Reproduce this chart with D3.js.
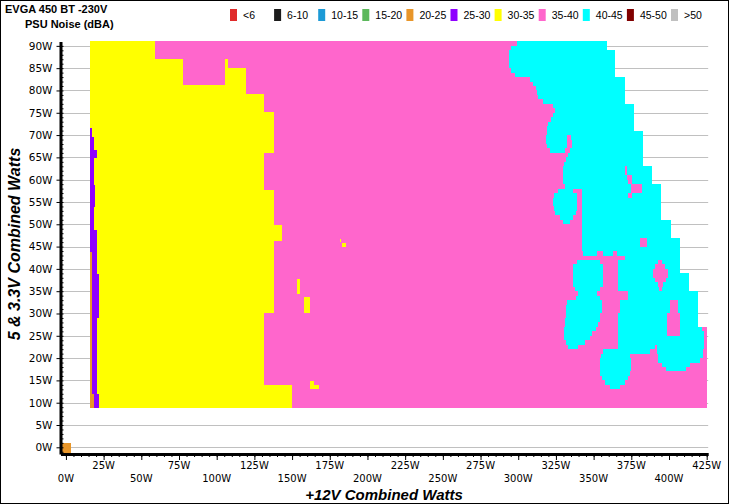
<!DOCTYPE html>
<html>
<head>
<meta charset="utf-8">
<script src="https://d3js.org/d3.v7.min.js"></script>
<style>
  body { margin: 0; background: #fff; }
  svg { display: block; }
  text { font-family: "Liberation Sans", Arial, sans-serif; }
</style>
</head>
<body>
<svg id="chart" width="729" height="504"></svg>
<script>
// legend categories (dBA) and colours
var legendLabels = ["<6", "6-10", "10-15", "15-20", "20-25", "25-30", "30-35", "35-40", "40-45", "45-50", ">50"];
var legendColors = ["#e02a2a", "#1c1c1c", "#1c9ad6", "#5cb85c", "#e8962a", "#8f00ff", "#ffff00", "#ff66cc", "#00ffff", "#800000", "#c0c0c0"];

// base map, horizontal bands (5&3.3V watts): 30-35 up to yellowEnd, 35-40 up to pinkEnd
var mapLeft = 15.9;
var bandTop    = [91, 88.8, 87.1, 85.1, 82.8, 81.3, 79.3, 77.0, 75.2, 70.8, 66.0, 62.8, 59.0, 57.7, 50.9, 49.9, 46.8, 46.2, 39.0, 34.9, 30.1, 26.9, 14.0];
var bandBottom = [88.8, 87.1, 85.1, 82.8, 81.3, 79.3, 77.0, 75.2, 70.8, 66.0, 62.8, 59.0, 57.7, 50.9, 49.9, 46.8, 46.2, 39.0, 34.9, 30.1, 26.9, 14.0, 8.75];
var yellowEnd  = [59.1, 59.1, 77.4, 77.4, 77.4, 119.2, 131.2, 131.2, 138.0, 138.0, 131.2, 131.2, 131.2, 138.0, 138.0, 143.3, 143.3, 138.0, 138.0, 138.0, 131.2, 131.2, 150.0];
var pinkEnd    = [359, 364, 364, 364, 371, 371, 371, 377, 377, 383, 383, 389, 395, 395, 401, 401, 407, 407, 413, 419, 419, 425, 425];

// extra cells: [category, x0, x1, y0, y1]
var patches = [
  ["30-35", 105.5, 107.3, 85.1, 87.1],
  ["30-35", 105.5, 119.2, 81.3, 85.1],
  ["30-35", 153.1, 155.3, 34.3, 37.7],
  ["30-35", 157.9, 161.9, 30.2, 33.8],
  ["30-35", 161.9, 164.6, 14.0, 14.9],
  ["30-35", 161.9, 167.7, 13.1, 14.0],
  ["30-35", 183.1, 185.8, 45.0, 45.8],
  ["30-35", 181.8, 182.5, 46.0, 46.7],
  ["25-30", 15.9, 17.3, 69.6, 71.6],
  ["25-30", 15.9, 18.4, 66.7, 69.6],
  ["25-30", 15.9, 20.4, 64.9, 66.7],
  ["25-30", 15.9, 18.4, 58.8, 64.9],
  ["25-30", 15.9, 19.3, 53.9, 58.8],
  ["25-30", 15.9, 18.6, 48.7, 53.9],
  ["25-30", 15.9, 20.4, 43.8, 48.7],
  ["20-25", 15.9, 17.1, 12.0, 43.8],
  ["25-30", 17.1, 20.4, 38.8, 43.8],
  ["25-30", 17.1, 21.7, 29.0, 38.8],
  ["25-30", 17.1, 20.4, 12.0, 29.0],
  ["20-25", 15.9, 18.4, 8.75, 12.0],
  ["25-30", 18.4, 21.9, 8.75, 12.0],
  ["20-25", -3.3, 3.3, -1.5, 1.05]
];

// 40-45 dBA cells, one row per watt: [row low edge, x0, x1, x0, x1, ...]
var cyanRows = [
  [90, 299.1, 359], [89, 295.3, 359], [88, 294.2, 364], [87, 294.2, 364], [86, 294.2, 364],
  [85, 294.2, 364], [84, 295.3, 364], [83, 297.9, 364], [82, 307.9, 371], [81, 309.9, 371],
  [80, 311.9, 371], [79, 312.5, 371], [78, 313.2, 371], [77, 316.5, 371], [76, 323.2, 377],
  [75, 324.5, 377], [74, 323.2, 377], [73, 321.8, 377], [72, 319.8, 377], [71, 319.2, 377],
  [70, 319.2, 383],
  [69, 318.5, 332.4, 335.1, 383], [68, 318.5, 332.4, 335.8, 383], [67, 319.2, 332.4, 335.8, 383],
  [66, 321.2, 331.1, 334.4, 383],
  [65, 333.1, 383], [64, 331.8, 383], [63, 330.5, 383],
  [62, 329.8, 370.9, 372.3, 389], [61, 329.8, 370.9, 372.3, 389],
  [60, 329.8, 372.3, 375.6, 389], [59, 329.8, 372.9, 375.6, 389],
  [58, 331.1, 374.9, 382.2, 395],
  [57, 326.5, 336.4, 342.4, 374.9, 382.2, 395],
  [56, 323.8, 339.1, 342.4, 372.9, 375.6, 395],
  [55, 323.2, 339.1, 342.4, 395], [54, 323.2, 339.1, 342.4, 395], [53, 323.8, 339.1, 342.4, 395],
  [52, 324.5, 338.4, 342.4, 395], [51, 327.8, 336.4, 342.4, 395], [50, 329.8, 334.4, 342.4, 401],
  [49, 342.4, 401], [48, 342.4, 401], [47, 342.4, 401],
  [46, 342.4, 380.9, 385.5, 407], [45, 342.4, 380.9, 385.5, 407], [44, 342.4, 407],
  [43, 343.1, 352.4, 356.3, 363.0, 365.6, 407],
  [42, 370.9, 407],
  [41, 339.1, 354.3, 366.3, 392.8, 395.5, 407],
  [40, 336.4, 356.3, 366.3, 390.8, 397.5, 407],
  [39, 336.4, 356.3, 366.3, 389.5, 399.5, 407],
  [38, 336.4, 356.3, 366.3, 389.5, 399.5, 413],
  [37, 336.4, 356.3, 366.3, 390.8, 398.1, 413],
  [36, 336.4, 356.3, 366.3, 392.8, 396.2, 413],
  [35, 337.8, 354.3, 366.3, 393.5, 395.5, 413],
  [34, 339.7, 352.4, 372.9, 419],
  [33, 338.4, 354.3, 372.9, 419],
  [32, 332.4, 355.7, 367.6, 400.8, 406.1, 419],
  [31, 331.8, 355.7, 367.6, 400.8, 406.1, 419],
  [30, 331.8, 355.7, 367.6, 400.8, 406.1, 419],
  [29, 331.8, 354.3, 366.3, 398.8, 407.4, 419],
  [28, 331.1, 354.3, 366.3, 398.8, 407.4, 419],
  [27, 331.1, 353.0, 366.3, 398.8, 407.4, 419],
  [26, 330.5, 351.7, 366.3, 398.8, 407.4, 422.0],
  [25, 330.5, 349.0, 366.3, 398.8, 407.4, 423.4],
  [24, 330.5, 347.7, 366.3, 423.4],
  [23, 331.8, 344.4, 366.3, 423.4],
  [22, 333.1, 339.7, 366.3, 390.8, 392.2, 423.4],
  [21, 356.3, 387.5, 392.2, 422.7],
  [20, 355.0, 374.3, 392.8, 422.7],
  [19, 354.3, 374.9, 392.8, 420.7],
  [18, 354.3, 374.9, 395.5, 414.1],
  [17, 354.3, 374.9, 398.1, 411.4],
  [16, 354.3, 374.3], [15, 355.7, 372.9], [14, 357.7, 370.9], [13, 361.0, 367.6]
];

var xTicks = d3.range(0, 426, 25);
var yTicks = d3.range(0, 91, 5);

var svg = d3.select("#chart");
var color = d3.scaleOrdinal().domain(legendLabels).range(legendColors);

var xs = d3.scaleLinear().domain([-3.6, 426]).range([60.5, 708.2]);
var ys = d3.scaleLinear().domain([-1.5, 91]).range([454, 41.4]);

svg.append("rect")
   .attr("x", 0.5).attr("y", 0.5).attr("width", 728).attr("height", 503)
   .attr("fill", "#fff").attr("stroke", "#000");

// gridlines
svg.append("g").selectAll("line")
   .data(yTicks).enter().append("line")
   .attr("x1", xs(-3.6)).attr("x2", xs(426))
   .attr("y1", function(d) { return Math.round(ys(d)) + 0.5; })
   .attr("y2", function(d) { return Math.round(ys(d)) + 0.5; })
   .attr("stroke", "#c0c0c0");

var map = svg.append("g").attr("shape-rendering", "crispEdges");

function cell(cat, x0, x1, y0, y1) {
  map.append("rect")
     .attr("x", xs(x0)).attr("width", xs(x1) - xs(x0))
     .attr("y", ys(y1)).attr("height", ys(y0) - ys(y1))
     .attr("fill", color(cat));
}

bandTop.forEach(function(t, i) {
  cell("30-35", mapLeft, yellowEnd[i], bandBottom[i], t);
  cell("35-40", yellowEnd[i], pinkEnd[i], bandBottom[i], t);
});
patches.forEach(function(p) { cell(p[0], p[1], p[2], p[3], p[4]); });
cyanRows.forEach(function(r) {
  for (var j = 1; j < r.length; j += 2) cell("40-45", r[j], r[j + 1], r[0], r[0] + 1);
});

// axes
var yAxis = svg.append("g").attr("transform", "translate(" + xs(-3.6) + ",0)")
   .call(d3.axisLeft(ys).tickValues(yTicks).tickSize(4).tickSizeOuter(0)
         .tickFormat(function(d) { return d + "W"; }));
svg.append("g").attr("transform", "translate(" + xs(-3.6) + ",0)")
   .call(d3.axisRight(ys).tickValues(d3.range(-1, 91, 1)).tickSize(3).tickSizeOuter(0).tickFormat(""))
   .select(".domain").remove();

var xAxis = svg.append("g").attr("transform", "translate(0," + ys(-1.5) + ")")
   .call(d3.axisBottom(xs).tickValues(xTicks).tickSize(6).tickSizeOuter(0).tickFormat(""));
svg.append("g").attr("transform", "translate(0," + ys(-1.5) + ")")
   .call(d3.axisBottom(xs).tickValues(d3.range(0, 426, 5)).tickSize(3).tickSizeOuter(0).tickFormat(""))
   .select(".domain").remove();

svg.selectAll(".domain").attr("stroke-width", 3).attr("stroke", "#000");
svg.selectAll(".tick line").attr("stroke", "#000");
yAxis.selectAll("text")
   .attr("x", -8)
   .style("font-family", "DejaVu Sans, sans-serif").style("font-size", "10.5px").attr("fill", "#000");

// x labels in two staggered rows
svg.append("g").selectAll("text")
   .data(xTicks).enter().append("text")
   .attr("x", function(d) { return xs(d); })
   .attr("y", function(d, i) { return i % 2 ? 469 : 482; })
   .attr("text-anchor", "middle")
   .style("font-family", "DejaVu Sans, sans-serif").style("font-size", "10px")
   .text(function(d) { return d + "W"; });

// titles
svg.append("text").attr("x", 5).attr("y", 13)
   .style("font-weight", "bold").style("font-size", "11px").text("EVGA 450 BT -230V");
svg.append("text").attr("x", 25).attr("y", 28)
   .style("font-weight", "bold").style("font-size", "11px").text("PSU Noise (dBA)");

svg.append("text").attr("x", 384).attr("y", 500).attr("text-anchor", "middle")
   .style("font-weight", "bold").style("font-style", "italic").style("font-size", "15px")
   .text("+12V Combined Watts");
svg.append("text").attr("transform", "translate(20,244) rotate(-90)").attr("text-anchor", "middle")
   .style("font-weight", "bold").style("font-style", "italic").style("font-size", "16px")
   .text("5 & 3.3V Combined Watts");

// legend
var leg = svg.append("g").selectAll("g")
   .data(legendLabels).enter().append("g")
   .attr("transform", function(d, i) { return "translate(" + (230 + i * 44.1) + ",9)"; });
leg.append("rect").attr("width", 7).attr("height", 12)
   .attr("fill", function(d) { return color(d); });
leg.append("text").attr("x", 13).attr("y", 10)
   .style("font-size", "10.5px").text(function(d) { return d; });
</script>
</body>
</html>
